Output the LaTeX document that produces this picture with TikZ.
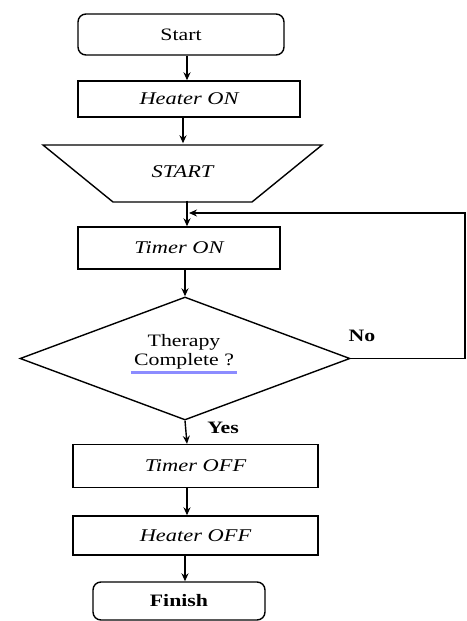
\documentclass[tikz,border=0pt]{standalone}
\usepackage{fontspec}
\setmainfont{Liberation Serif}[FakeStretch=1.25]
\usetikzlibrary{shapes.geometric,arrows.meta,calc}
\tikzset{
  box/.style={draw, line width=1.4pt, rectangle, inner sep=0pt},
  rbox/.style={box, rounded corners=8bp},
  arr/.style={line width=1.4pt, -{Stealth[length=8bp,width=7bp]}},
  line/.style={line width=1.4pt},
  lbl/.style={font=\fontsize{17.5}{19}\selectfont},
  ilbl/.style={font=\fontsize{18}{20}\selectfont\itshape},
  blbl/.style={font=\fontsize{17.5}{19}\selectfont\bfseries},
}
\begin{document}
\begin{tikzpicture}[x=1bp,y=-1bp]
\useasboundingbox (0,0) rectangle (467,621);
\coordinate (ax) at (187,0);
\coordinate (ax2) at (183,0);
\coordinate (ax3) at (185,0);
\node[rbox, minimum width=206bp, minimum height=41bp, lbl] (start) at (181,34.5) {Start};
\node[box, minimum width=222bp, minimum height=36bp, ilbl] (heat) at (189,99) {Heater ON};
\draw[line] (43,145) -- (322,145) -- (252,202) -- (113,202) -- cycle;
\node[minimum width=139bp, minimum height=57bp, inner sep=0pt, ilbl] (trap) at (182.5,172) {START};
\node[box, minimum width=202bp, minimum height=42bp, ilbl] (ton) at (179,248) {Timer ON};
\node[draw, line width=1.4pt, diamond, shape aspect=2.7, minimum width=330bp, minimum height=123bp, inner sep=0pt] (dec) at (185,358.5) {};
\node[lbl, align=center, inner sep=0pt] (q) at (184,352) {Therapy\\Complete ?};
\draw[line width=2.4pt, color=blue!45] ($(q.south west)+(-3,3)$) -- ($(q.south east)+(3,3)$);
\node[blbl] (no) at (362,336) {No};
\node[blbl] (yes) at (223,428) {Yes};
\node[box, minimum width=245bp, minimum height=43bp, ilbl] (toff) at (195.5,466) {Timer OFF};
\node[box, minimum width=245bp, minimum height=39bp, ilbl] (hoff) at (195.5,535.5) {Heater OFF};
\node[rbox, minimum width=172bp, minimum height=38bp, blbl] (fin) at (179,601) {Finish};
\coordinate (rt) at (465,213);
\draw[arr] (start.south -| ax) -- (heat.north -| ax);
\draw[arr] (heat.south -| ax2) -- (trap.north -| ax2);
\draw[arr] (trap.south -| ax) -- (ton.north -| ax);
\draw[arr] (dec.east) -- (dec.east -| rt) -- (rt) -- ($(rt -| ax)+(2,0)$);
\draw[arr] (ton.south -| ax3) -- (dec.north);
\draw[arr] (dec.south) -- (toff.north -| ax);
\draw[arr] (toff.south -| ax) -- (hoff.north -| ax);
\draw[arr] (hoff.south -| ax3) -- (fin.north -| ax3);
\end{tikzpicture}
\end{document}
